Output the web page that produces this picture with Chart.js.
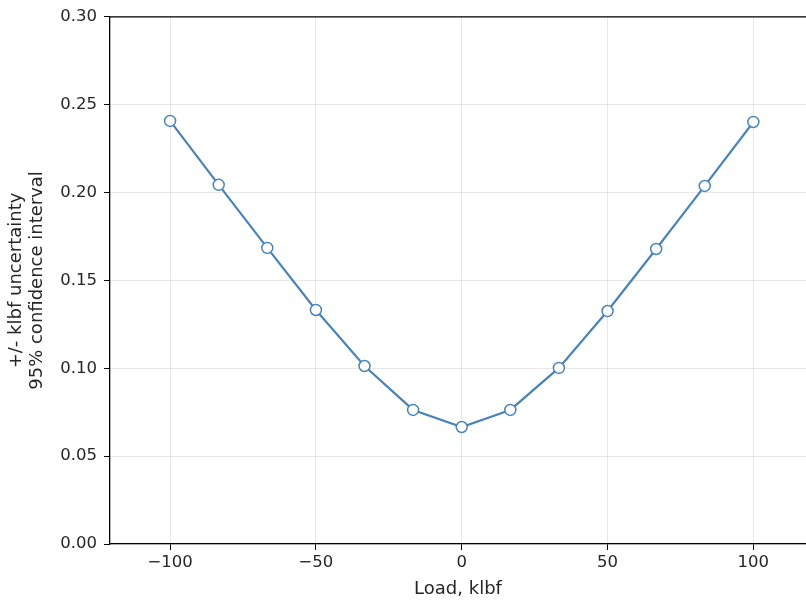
<!DOCTYPE html>
<html>
<head>
<meta charset="utf-8">
<script src="https://cdn.jsdelivr.net/npm/chart.js@4.4.1/dist/chart.umd.min.js"></script>
<style>
  html, body { margin: 0; padding: 0; background: #fff; overflow: hidden; width: 806px; height: 601px; }
  #c { display: block; }
</style>
</head>
<body>
<!-- canvas is a little wider than the page: the line controller reserves
     room for the point radius on the right, which falls outside the view -->
<canvas id="c" width="813" height="601"></canvas>
<script>
// Load steps (klbf) and the matching 95% confidence half-width (klbf)
const loads = [-100, -83.33, -66.67, -50, -33.33, -16.67, 0, 16.67, 33.33, 50, 66.67, 83.33, 100];
const uncertainty = [0.2408, 0.2044, 0.1685, 0.1332, 0.1013, 0.0763, 0.0666, 0.0763, 0.1002, 0.1326, 0.1679, 0.2038, 0.2402];

const xTicks = [-100, -50, 0, 50, 100];
const yTicks = [0, 0.05, 0.10, 0.15, 0.20, 0.25, 0.30];

const FONT = 'DejaVu Sans';
const TXT = '#262626';

// top frame line across the plot area
const topFrame = {
  id: 'topFrame',
  afterDraw(chart) {
    const { ctx, chartArea } = chart;
    ctx.save();
    ctx.strokeStyle = '#000';
    ctx.lineWidth = 1.3;
    ctx.beginPath();
    ctx.moveTo(chartArea.left, chartArea.top);
    ctx.lineTo(chartArea.right + 2, chartArea.top);
    ctx.stroke();
    ctx.restore();
  }
};

new Chart(document.getElementById('c'), {
  type: 'line',
  data: {
    datasets: [{
      data: loads.map((x, i) => ({ x, y: uncertainty[i] })),
      borderColor: '#4a84b6',
      borderWidth: 2.2,
      pointRadius: 5.5,
      pointBorderWidth: 1.5,
      pointBackgroundColor: '#ffffff',
      pointBorderColor: '#4a84b6',
      tension: 0,
      fill: false
    }]
  },
  options: {
    responsive: false,
    animation: false,
    devicePixelRatio: 1,
    layout: { padding: { top: 16, right: 0, left: 0, bottom: 0 } },
    plugins: { legend: { display: false }, tooltip: { enabled: false } },
    scales: {
      x: {
        type: 'linear',
        min: -120.6,
        max: 118.05,
        afterBuildTicks(s) { s.ticks = xTicks.map(v => ({ value: v })); },
        afterFit(s) { s.height = 57; },
        grid: { color: 'rgba(0,0,0,0.09)', tickColor: '#000', tickLength: 6, lineWidth: 1 },
        border: { color: '#000', width: 1.3 },
        ticks: {
          font: { family: FONT, size: 16.5 }, color: TXT, padding: 3, maxRotation: 0,
          callback: v => String(v).replace('-', '\u2212')
        },
        title: { display: true, text: 'Load, klbf', font: { family: FONT, size: 18 }, color: TXT, padding: { top: 0, bottom: 1 } }
      },
      y: {
        type: 'linear',
        min: 0,
        max: 0.30,
        afterBuildTicks(s) { s.ticks = yTicks.map(v => ({ value: v })); },
        afterFit(s) { s.width = 110; },
        grid: { color: 'rgba(0,0,0,0.09)', tickColor: '#000', tickLength: 6, lineWidth: 1 },
        border: { color: '#000', width: 1.3 },
        ticks: {
          font: { family: FONT, size: 16.5 }, color: TXT, padding: 7,
          callback: v => v.toFixed(2)
        },
        title: {
          display: true,
          text: ['+/- klbf uncertainty', '95% confidence interval'],
          font: { family: FONT, size: 18, lineHeight: 1.17 }, color: TXT, padding: { top: 6, bottom: 4 }
        }
      }
    }
  },
  plugins: [topFrame]
});
</script>
</body>
</html>
